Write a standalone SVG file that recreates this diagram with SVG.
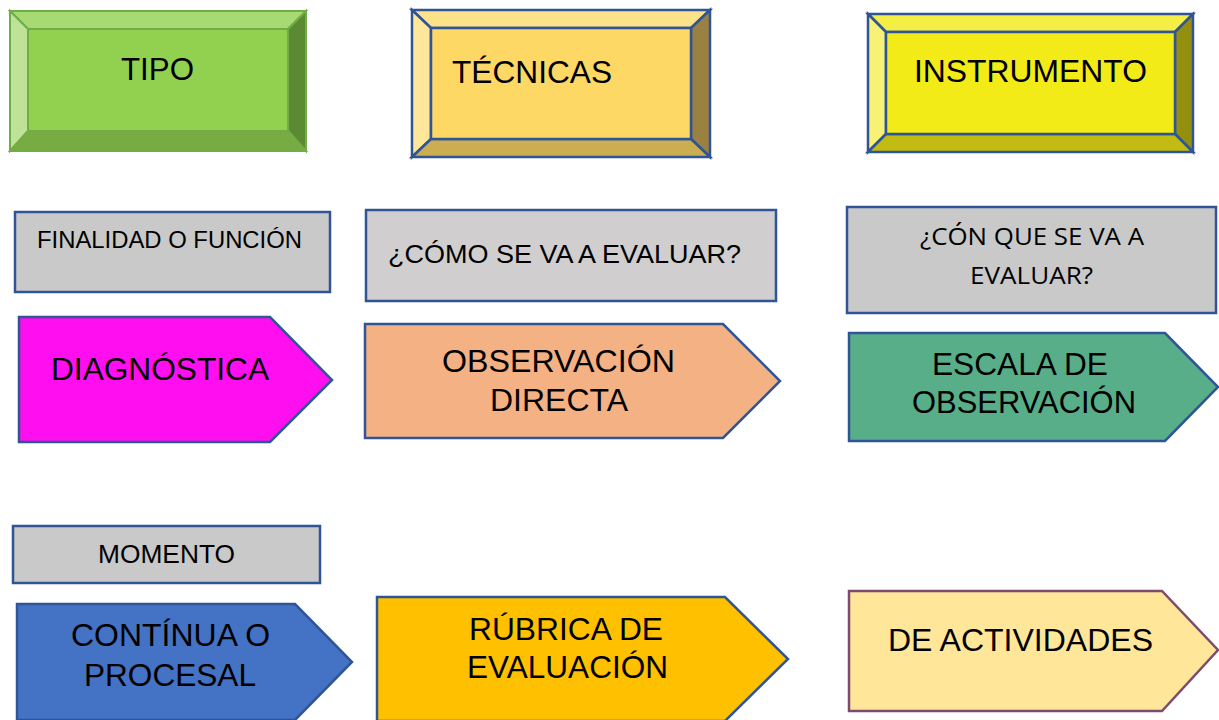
<svg xmlns="http://www.w3.org/2000/svg" width="1219" height="720" viewBox="0 0 1219 720">
<style>
.t{font-family:"Liberation Sans",Arial,sans-serif;fill:#000}
.c{font-family:"Open Sans","Noto Sans",sans-serif;fill:#000}
.bg{stroke:#70ad47;stroke-width:2;stroke-linejoin:miter}
.bb{stroke:#2f5597;stroke-width:2.5;stroke-linejoin:miter}
.gray{fill:#c9c9c9;stroke:#2f5597;stroke-width:2.5}
.pent{stroke:#2f5597;stroke-width:2.5;stroke-linejoin:miter}
</style>
<rect width="1219" height="720" fill="#fff"/>

<g id="tipo">
<polygon class="bg" points="10,11 306,11 288,29 28,29" fill="#a8da73"/>
<polygon class="bg" points="10,11 28,29 28,131 10,151" fill="#bee396"/>
<polygon class="bg" points="306,11 306,151 288,131 288,29" fill="#5b8a33"/>
<polygon class="bg" points="10,151 28,131 288,131 306,151" fill="#78ac43"/>
<rect class="bg" x="28" y="29" width="260" height="102" fill="#92d050"/>
<text class="t" x="121" y="80" font-size="32" textLength="73" lengthAdjust="spacingAndGlyphs">TIPO</text>
</g>

<g id="tecnicas">
<polygon class="bb" points="412,10 710,10 691,28 431,28" fill="#fee28a"/>
<polygon class="bb" points="412,10 431,28 431,139 412,157" fill="#fee79b"/>
<polygon class="bb" points="710,10 710,157 691,139 691,28" fill="#9a8141"/>
<polygon class="bb" points="412,157 431,139 691,139 710,157" fill="#cbad52"/>
<rect class="bb" x="431" y="28" width="260" height="111" fill="#fdd865"/>
<text class="t" x="452" y="83" font-size="32" textLength="160" lengthAdjust="spacingAndGlyphs">TÉCNICAS</text>
</g>

<g id="instrumento">
<polygon class="bb" points="868,14 1193,14 1175,32 886,32" fill="#f5ef45"/>
<polygon class="bb" points="868,14 886,32 886,134 868,152" fill="#f7f275"/>
<polygon class="bb" points="1193,14 1193,152 1175,134 1175,32" fill="#958f0f"/>
<polygon class="bb" points="868,152 886,134 1175,134 1193,152" fill="#c2bc12"/>
<rect class="bb" x="886" y="32" width="289" height="102" fill="#f2eb17"/>
<text class="t" x="914" y="82" font-size="31" textLength="233" lengthAdjust="spacingAndGlyphs">INSTRUMENTO</text>
</g>

<g id="finalidad">
<rect class="gray" x="15" y="212" width="315" height="80"/>
<text class="t" x="37" y="248" font-size="23" textLength="265" lengthAdjust="spacingAndGlyphs">FINALIDAD O FUNCIÓN</text>
</g>

<g id="como">
<rect class="gray" x="366" y="210" width="410" height="91" style="fill:#d0cece"/>
<text class="t" x="388" y="263" font-size="25" textLength="353" lengthAdjust="spacingAndGlyphs">¿CÓMO SE VA A EVALUAR?</text>
</g>

<g id="con">
<rect class="gray" x="847" y="207" width="369" height="106"/>
<text class="c" x="920" y="245" font-size="23" textLength="224" lengthAdjust="spacingAndGlyphs">¿CÓN QUE SE VA A</text>
<text class="c" x="970" y="284" font-size="23" textLength="123" lengthAdjust="spacingAndGlyphs">EVALUAR?</text>
</g>

<g id="diagnostica">
<polygon class="pent" points="19,317 270,317 332,380 270,442 19,442" fill="#ff0ff0"/>
<text class="t" x="51" y="380" font-size="32" textLength="218" lengthAdjust="spacingAndGlyphs">DIAGNÓSTICA</text>
</g>

<g id="observacion">
<polygon class="pent" points="365,324 723,324 780,381 723,438 365,438" fill="#f4b183"/>
<text class="t" x="442" y="372" font-size="32" textLength="233" lengthAdjust="spacingAndGlyphs">OBSERVACIÓN</text>
<text class="t" x="490" y="411" font-size="32" textLength="138" lengthAdjust="spacingAndGlyphs">DIRECTA</text>
</g>

<g id="escala">
<polygon class="pent" points="849,333 1165,333 1218,387 1165,441 849,441" fill="#58ae89"/>
<text class="t" x="932" y="375" font-size="30.5" textLength="176" lengthAdjust="spacingAndGlyphs">ESCALA DE</text>
<text class="t" x="912" y="413" font-size="30.5" textLength="224" lengthAdjust="spacingAndGlyphs">OBSERVACIÓN</text>
</g>

<g id="momento">
<rect class="gray" x="13" y="526" width="307" height="57"/>
<text class="t" x="98" y="563" font-size="26" textLength="137" lengthAdjust="spacingAndGlyphs">MOMENTO</text>
</g>

<g id="continua">
<polygon class="pent" points="17,604 295,604 352,662 295,720 17,720" fill="#4472c4"/>
<text class="t" x="71" y="646" font-size="32" textLength="199" lengthAdjust="spacingAndGlyphs">CONTÍNUA O</text>
<text class="t" x="84" y="686" font-size="32" textLength="172" lengthAdjust="spacingAndGlyphs">PROCESAL</text>
</g>

<g id="rubrica">
<polygon class="pent" points="377,597 725,597 788,659 725,721 377,721" fill="#ffc000"/>
<text class="t" x="469" y="640" font-size="32" textLength="194" lengthAdjust="spacingAndGlyphs">RÚBRICA DE</text>
<text class="t" x="467" y="678" font-size="32" textLength="201" lengthAdjust="spacingAndGlyphs">EVALUACIÓN</text>
</g>

<g id="actividades">
<polygon points="849,591 1162,591 1218,650 1162,711 849,711" fill="#ffe699" stroke="#7f4a70" stroke-width="2.5" stroke-linejoin="miter"/>
<text class="t" x="888" y="651" font-size="31" textLength="265" lengthAdjust="spacingAndGlyphs">DE ACTIVIDADES</text>
</g>

<g id="connectors"/>
</svg>
